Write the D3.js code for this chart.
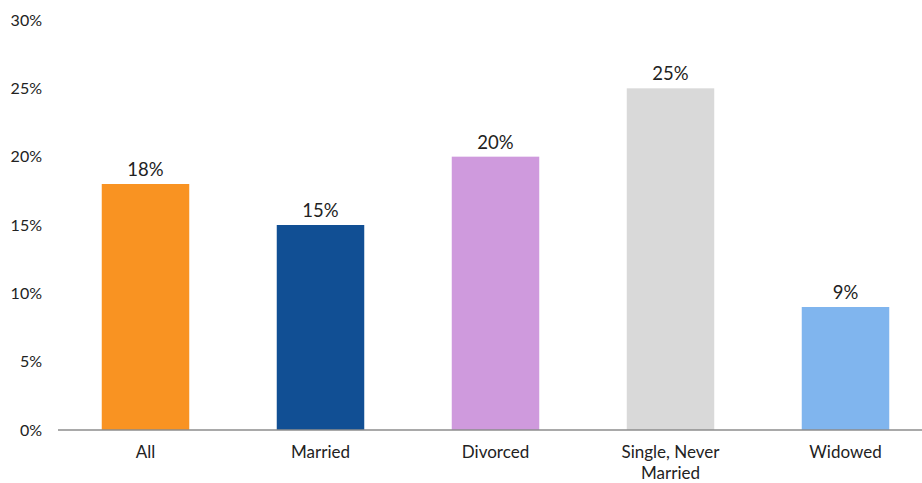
<!DOCTYPE html>
<html>
<head>
<meta charset="utf-8">
<script src="https://cdn.jsdelivr.net/npm/d3@7"></script>
<style>
  body { margin: 0; background: #fff; }
  text { font-family: "Century Gothic", "Lato", "Noto Sans", sans-serif; fill: #222; }
</style>
</head>
<body>
<script>
const categories = ['All', 'Married', 'Divorced', 'Single, Never Married', 'Widowed'];
const values = [18, 15, 20, 25, 9];
const colors = ['#F99322', '#114F94', '#CF9ADD', '#D9D9D9', '#80B5EE'];
const yTicks = [0, 5, 10, 15, 20, 25, 30];

const width = 922;
const height = 483;

const svg = d3.select('body')
  .append('svg')
    .attr('width', width)
    .attr('height', height);

const x = d3.scaleBand()
  .domain(categories)
  .range([58, 933])
  .paddingInner(0.5)
  .paddingOuter(0.25);

const y = d3.scaleLinear()
  .domain([0, 30])
  .range([430, 20]);

// y tick labels, no axis line
svg.append('g')
  .attr('transform', 'translate(42,0)')
  .call(d3.axisLeft(y).tickValues(yTicks).tickFormat(d => d + '%').tickSize(0).tickPadding(0))
  .call(g => g.select('.domain').remove())
  .selectAll('text')
    .attr('font-size', 16)
    .attr('fill', '#222');

svg.selectAll('rect.bar')
  .data(values)
  .enter()
  .append('rect')
    .attr('class', 'bar')
    .attr('x', (d, i) => x(categories[i]))
    .attr('y', d => y(d))
    .attr('width', x.bandwidth())
    .attr('height', d => y(0) - y(d))
    .attr('fill', (d, i) => colors[i]);

// baseline
svg.append('line')
  .attr('x1', 58)
  .attr('x2', width)
  .attr('y1', y(0))
  .attr('y2', y(0))
  .attr('stroke', '#8c8c8c')
  .attr('stroke-width', 1.5);

svg.selectAll('text.value')
  .data(values)
  .enter()
  .append('text')
    .attr('class', 'value')
    .text(d => d + '%')
    .attr('text-anchor', 'middle')
    .attr('x', (d, i) => x(categories[i]) + x.bandwidth() / 2)
    .attr('y', d => y(d) - 8)
    .attr('font-size', 18.5);

// category labels, wrapped to two lines where needed
const catLabels = svg.selectAll('text.cat')
  .data(categories)
  .enter()
  .append('text')
    .attr('class', 'cat')
    .attr('text-anchor', 'middle')
    .attr('font-size', 17)
    .attr('x', d => x(d) + x.bandwidth() / 2)
    .attr('y', 458);

catLabels.each(function (d) {
  const lines = d === 'Single, Never Married' ? ['Single, Never', 'Married'] : [d];
  const el = d3.select(this);
  lines.forEach((line, i) => {
    el.append('tspan')
      .attr('x', x(d) + x.bandwidth() / 2)
      .attr('dy', i === 0 ? 0 : 21)
      .text(line);
  });
});
</script>
</body>
</html>
